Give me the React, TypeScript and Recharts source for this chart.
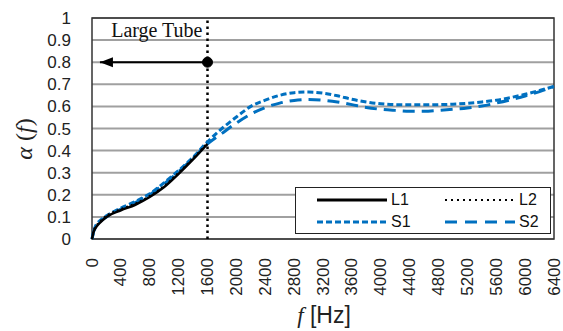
import {
    LineChart,
    Line,
    XAxis,
    YAxis,
    CartesianGrid,
    ReferenceLine,
    ReferenceDot,
    ReferenceArea,
} from "recharts";

// frequency grid [Hz]
const FREQ = [
    0, 20, 50, 100, 200, 400, 600, 800, 1000, 1200, 1400, 1600, 1800, 2000, 2200, 2400,
    2600, 2800, 3000, 3200, 3400, 3600, 3800, 4000, 4200, 4400, 4600, 4800, 5000, 5200,
    5400, 5600, 5800, 6000, 6200, 6400,
];

// large tube only goes up to 1600 Hz
const L1 = [0, 0.03, 0.05, 0.07, 0.1, 0.13, 0.155, 0.19, 0.235, 0.295, 0.36, 0.43];
const L2 = [0, 0.035, 0.055, 0.075, 0.105, 0.135, 0.16, 0.195, 0.24, 0.3, 0.365, 0.435];

const S1 = [
    0, 0.03, 0.06, 0.08, 0.105, 0.14, 0.17, 0.205, 0.255, 0.31, 0.37, 0.44, 0.5, 0.552,
    0.6, 0.628, 0.65, 0.662, 0.665, 0.66, 0.648, 0.632, 0.62, 0.612, 0.608, 0.607, 0.607,
    0.608, 0.61, 0.614, 0.62, 0.628, 0.64, 0.655, 0.672, 0.69,
];
const S2 = [
    0, 0.03, 0.055, 0.075, 0.1, 0.135, 0.165, 0.2, 0.25, 0.305, 0.365, 0.43, 0.478, 0.525,
    0.565, 0.595, 0.615, 0.627, 0.631, 0.628, 0.62, 0.608, 0.595, 0.587, 0.582, 0.578,
    0.578, 0.582, 0.587, 0.593, 0.602, 0.615, 0.63, 0.647, 0.667, 0.69,
];

const X_TICKS = [
    0, 400, 800, 1200, 1600, 2000, 2400, 2800, 3200, 3600, 4000, 4400, 4800, 5200, 5600,
    6000, 6400,
];
const Y_TICKS = [0, 0.1, 0.2, 0.3, 0.4, 0.5, 0.6, 0.7, 0.8, 0.9, 1];

// annotation: "Large Tube" limit
const TUBE_LIMIT = 1600;
const ARROW_Y = 0.8;
const ARROW_END = 110;

const BLUE = "#0070C0";
const FONT = "'Liberation Sans', Arial, sans-serif";
const SERIF = "'Liberation Serif', 'Times New Roman', serif";

const data = FREQ.map((f, i) => ({
    f,
    L1: i < L1.length ? L1[i] : null,
    L2: i < L2.length ? L2[i] : null,
    S1: S1[i],
    S2: S2[i],
}));

const XTick = ({ x, y, payload }: any) => (
    <text
        x={x}
        y={y}
        transform={`rotate(-90 ${x} ${y})`}
        textAnchor="end"
        dominantBaseline="central"
        fontSize={17}
        fontFamily={FONT}
        fill="#222"
    >
        {payload.value}
    </text>
);

const ArrowShape = (props: any) => {
    const { x1, y1, x2, y2 } = props;
    const tipX = Math.min(x1, x2);
    const y = y1;
    return (
        <g>
            <line x1={x1} y1={y1} x2={x2} y2={y2} stroke="#000" strokeWidth={2} />
            <polygon
                points={`${tipX},${y} ${tipX + 13},${y - 5} ${tipX + 13},${y + 5}`}
                fill="#000"
            />
        </g>
    );
};

const LegendItem = ({ label, color, dash, width }: any) => (
    <div style={{ display: "flex", alignItems: "center", height: 22 }}>
        <svg width={72} height={10} style={{ marginRight: 2 }}>
            <line
                x1={0}
                y1={5}
                x2={70}
                y2={5}
                stroke={color}
                strokeWidth={width}
                strokeDasharray={dash}
            />
        </svg>
        <span style={{ fontSize: 16, fontFamily: FONT, color: "#111" }}>{label}</span>
    </div>
);

const App = () => {
    return (
        <div style={{ position: "relative", width: 563, height: 331 }}>
            <style>{`body{margin:0}`}</style>
            <LineChart
                width={563}
                height={331}
                data={data}
                margin={{ top: 18, right: 9, left: 0, bottom: 0 }}
            >
                <CartesianGrid vertical={false} stroke="#A0A0A0" strokeWidth={2} />
                <XAxis
                    dataKey="f"
                    type="number"
                    domain={[0, 6400]}
                    ticks={X_TICKS}
                    interval={0}
                    height={92}
                    tickLine={false}
                    axisLine={false}
                    tickMargin={13}
                    tick={<XTick />}
                    label={{
                        content: () => (
                            <text
                                x={324}
                                y={323}
                                textAnchor="middle"
                                fontSize={23}
                                fontFamily={FONT}
                                fill="#222"
                            >
                                <tspan fontStyle="italic" fontFamily={SERIF}>
                                    f
                                </tspan>
                                <tspan> [Hz]</tspan>
                            </text>
                        ),
                    }}
                />
                <YAxis
                    type="number"
                    domain={[0, 1]}
                    ticks={Y_TICKS}
                    interval={0}
                    width={92}
                    tickLine={false}
                    axisLine={false}
                    tickMargin={15}
                    tickFormatter={(v: number) => String(Number(v.toFixed(1)))}
                    tick={{ fontSize: 17, fontFamily: FONT, fill: "#222" }}
                    label={{
                        content: () => (
                            <text
                                x={24}
                                y={139}
                                transform="rotate(-90 24 139)"
                                textAnchor="middle"
                                dominantBaseline="central"
                                fontSize={24}
                                fontFamily={SERIF}
                                fill="#222"
                            >
                                <tspan fontStyle="italic">α</tspan>
                                <tspan> (</tspan>
                                <tspan fontStyle="italic">f</tspan>
                                <tspan>)</tspan>
                            </text>
                        ),
                    }}
                />
                <ReferenceArea
                    x1={0}
                    x2={6400}
                    y1={0}
                    y2={1}
                    fill="none"
                    stroke="#333"
                    strokeWidth={1.5}
                    ifOverflow="visible"
                />
                <ReferenceLine
                    x={TUBE_LIMIT}
                    stroke="#000"
                    strokeWidth={2.5}
                    strokeDasharray="2.5 3.5"
                    label={{
                        value: "Large Tube",
                        position: "insideTopRight",
                        offset: 5,
                        fill: "#111",
                        fontSize: 20,
                        fontFamily: SERIF,
                    }}
                />
                <ReferenceLine
                    segment={[
                        { x: TUBE_LIMIT, y: ARROW_Y },
                        { x: ARROW_END, y: ARROW_Y },
                    ]}
                    shape={<ArrowShape />}
                />
                <ReferenceDot x={TUBE_LIMIT} y={ARROW_Y} r={5} fill="#000" stroke="#000" />
                <Line
                    type="monotone"
                    dataKey="S1"
                    stroke={BLUE}
                    strokeWidth={3}
                    strokeDasharray="6 3"
                    dot={false}
                    isAnimationActive={false}
                />
                <Line
                    type="monotone"
                    dataKey="S2"
                    stroke={BLUE}
                    strokeWidth={3}
                    strokeDasharray="12 7"
                    dot={false}
                    isAnimationActive={false}
                />
                <Line
                    type="monotone"
                    dataKey="L2"
                    stroke="#000"
                    strokeWidth={2}
                    strokeDasharray="2 3"
                    dot={false}
                    isAnimationActive={false}
                />
                <Line
                    type="monotone"
                    dataKey="L1"
                    stroke="#000"
                    strokeWidth={2.5}
                    dot={false}
                    isAnimationActive={false}
                />
            </LineChart>
            <div
                style={{
                    position: "absolute",
                    left: 295,
                    top: 187,
                    width: 256,
                    height: 47,
                    boxSizing: "border-box",
                    border: "1px solid #222",
                    background: "#fff",
                    display: "grid",
                    gridTemplateColumns: "128px 128px",
                    paddingLeft: 21,
                    paddingTop: 1,
                }}
            >
                <LegendItem label="L1" color="#000" width={3} />
                <LegendItem label="L2" color="#000" width={2} dash="2 4" />
                <LegendItem label="S1" color={BLUE} width={3} dash="6 3" />
                <LegendItem label="S2" color={BLUE} width={3} dash="12 8" />
            </div>
        </div>
    );
};

export default App;
